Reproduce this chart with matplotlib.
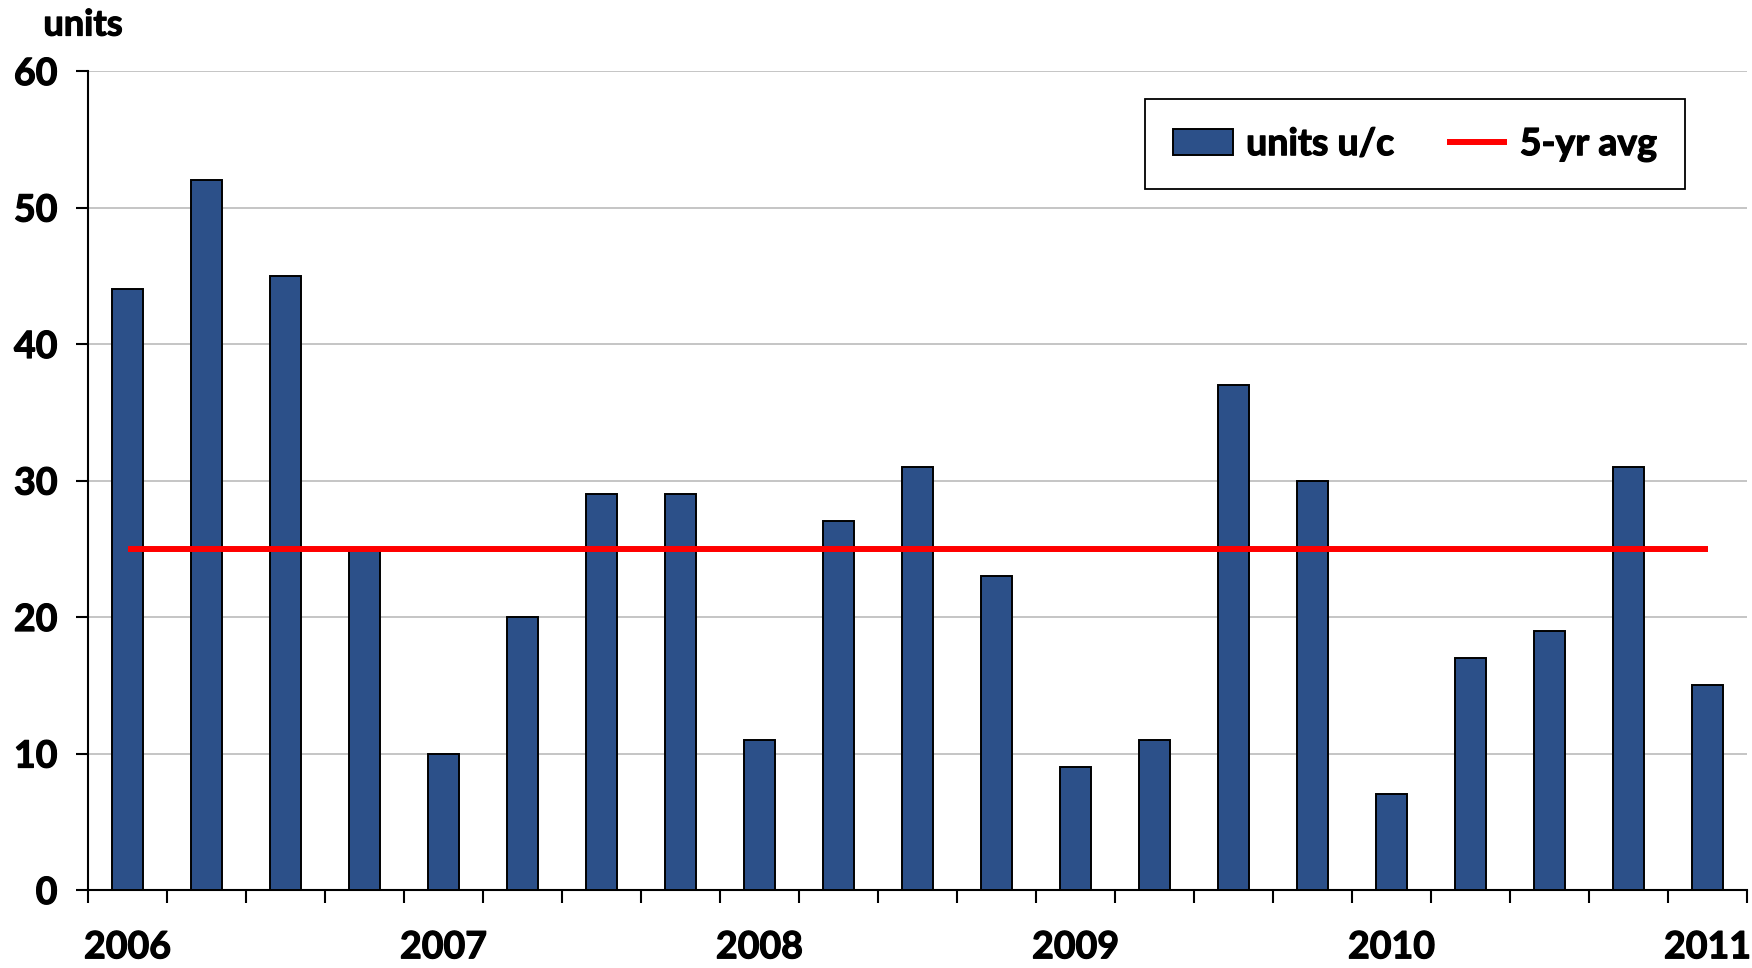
import numpy as np
from matplotlib import pyplot as plt
from matplotlib import patheffects
from matplotlib.ticker import FixedLocator, NullFormatter

quarters = ["2006 Q1", "2006 Q2", "2006 Q3", "2006 Q4",
            "2007 Q1", "2007 Q2", "2007 Q3", "2007 Q4",
            "2008 Q1", "2008 Q2", "2008 Q3", "2008 Q4",
            "2009 Q1", "2009 Q2", "2009 Q3", "2009 Q4",
            "2010 Q1", "2010 Q2", "2010 Q3", "2010 Q4",
            "2011 Q1"]
units = [44, 52, 45, 25, 10, 20, 29, 29, 11, 27, 31, 23, 9, 11, 37, 30, 7, 17, 19, 31, 15]
avg5yr = 25
yearLabels = ["2006", "2007", "2008", "2009", "2010", "2011"]

plt.rcParams['font.family'] = ['Lato', 'DejaVu Sans']
plt.rcParams['font.weight'] = 'bold'

# thicken the strokes a little, the original font is heavier than Lato Bold
heavy = [patheffects.withStroke(linewidth=0.9, foreground="black")]

fig = plt.figure(figsize=(17.52, 9.68), dpi=100)
axes = fig.add_axes([88 / 1752, 1 - 890 / 968, (1747 - 88) / 1752, (890 - 71) / 968])

x = np.arange(len(units)) + 0.5
bars = axes.bar(x, units, width=0.38, color="#2C5089", edgecolor="black", linewidth=1.4,
                label="units u/c", zorder=3)
line, = axes.plot([x[0], x[-1]], [avg5yr, avg5yr], color="#FF0000", linewidth=4.3,
                  label="5-yr avg", zorder=4, solid_capstyle="butt")

axes.set_xlim(0, len(units))
axes.set_ylim(0, 60)
axes.set_yticks(range(0, 61, 10))
axes.yaxis.grid(True, color="#C0C0C0", linewidth=1.3, zorder=0)
axes.set_axisbelow(True)

# quarter boundaries get tick marks, year labels sit under the Q1 bars
axes.xaxis.set_major_locator(FixedLocator(range(0, len(units) + 1)))
axes.xaxis.set_major_formatter(NullFormatter())
axes.xaxis.set_minor_locator(FixedLocator([x[i] for i in range(0, len(units), 4)]))
axes.set_xticklabels(yearLabels, minor=True)
axes.tick_params(axis="x", which="major", direction="out", length=9.5, width=1.5)
axes.tick_params(axis="x", which="minor", length=0, pad=29, labelsize=27)
axes.tick_params(axis="y", direction="out", length=9, width=1.5, pad=13, labelsize=27)

for lbl in axes.get_xticklabels(minor=True) + axes.get_yticklabels():
    lbl.set_path_effects(heavy)

for s in ["top", "right"]:
    axes.spines[s].set_visible(False)
for s in ["left", "bottom"]:
    axes.spines[s].set_linewidth(1.5)

fig.text(83 / 1752, 1 - 25 / 968, "units", ha="center", va="center", fontsize=26,
         fontweight="bold", path_effects=heavy)

leg = axes.legend([bars, line], ["units u/c", "5-yr avg"], loc="upper right",
                  bbox_to_anchor=(1685 / 1752, 1 - 99 / 968), borderaxespad=0,
                  bbox_transform=fig.transFigure, ncol=2, fontsize=27, frameon=True,
                  fancybox=False, edgecolor="black", framealpha=1, borderpad=0.75,
                  handlelength=1.6, handleheight=0.7, handletextpad=0.35, columnspacing=1.4)
leg.get_frame().set_linewidth(1.3)
for t in leg.get_texts():
    t.set_path_effects(heavy)

fig.savefig("out.png", dpi=100)
